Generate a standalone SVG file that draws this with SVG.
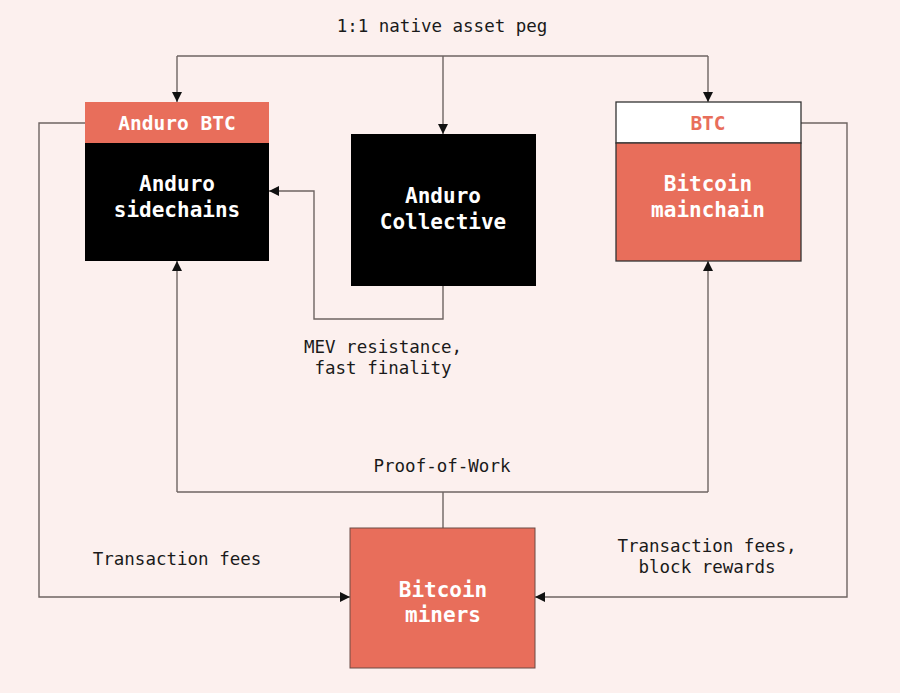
<svg xmlns="http://www.w3.org/2000/svg" width="900" height="693" viewBox="0 0 900 693">
<style>
.bg{fill:#fcf0ee}
.ln{fill:none;stroke:#6e6462;stroke-width:1.4}
.lbl{font-family:"DejaVu Sans Mono","Liberation Mono",monospace;font-size:17.5px;fill:#1a1a1a;text-anchor:middle}
.nt{font-family:"DejaVu Sans Mono","Liberation Mono",monospace;font-size:21px;font-weight:bold;fill:#fff;text-anchor:middle}
.hd{font-family:"DejaVu Sans Mono","Liberation Mono",monospace;font-size:19.5px;font-weight:bold;text-anchor:middle}
.salmon{fill:#e86e5b}
</style>
<defs>
<marker id="ah" viewBox="0 0 10 10" refX="10" refY="5" markerWidth="10" markerHeight="10" markerUnits="userSpaceOnUse" orient="auto">
<path d="M0,0 L10,5 L0,10 Z" fill="#111"/>
</marker>
</defs>
<rect class="bg" x="0" y="0" width="900" height="693"/>

<g id="connectors">
<path class="ln" d="M177,56 H708"/>
<path class="ln" d="M177,56 V102" marker-end="url(#ah)"/>
<path class="ln" d="M443,56 V134" marker-end="url(#ah)"/>
<path class="ln" d="M708,56 V102" marker-end="url(#ah)"/>
<path class="ln" d="M443,286 V319 H314 V191 H269" marker-end="url(#ah)"/>
<path class="ln" d="M443,528 V492"/>
<path class="ln" d="M177,492 H708"/>
<path class="ln" d="M177,492 V261" marker-end="url(#ah)"/>
<path class="ln" d="M708,492 V261" marker-end="url(#ah)"/>
<path class="ln" d="M85,123 H39 V597 H350" marker-end="url(#ah)"/>
<path class="ln" d="M801,123 H847 V597 H535" marker-end="url(#ah)"/>
<text class="lbl" x="442" y="32">1:1 native asset peg</text>
<text class="lbl" x="383" y="353">MEV resistance,</text>
<text class="lbl" x="383" y="374">fast finality</text>
<text class="lbl" x="442" y="472">Proof-of-Work</text>
<text class="lbl" x="177" y="565">Transaction fees</text>
<text class="lbl" x="707" y="552">Transaction fees,</text>
<text class="lbl" x="707" y="573">block rewards</text>
</g>

<g id="anduro-sidechains">
<rect x="85" y="102" width="184" height="159" fill="#000"/>
<rect class="salmon" x="85" y="102" width="184" height="41"/>
<text class="hd" x="177" y="130" fill="#fff">Anduro BTC</text>
<text class="nt" x="177" y="191">Anduro</text>
<text class="nt" x="177" y="217">sidechains</text>
</g>

<g id="anduro-collective">
<rect x="351" y="134" width="185" height="152" fill="#000"/>
<text class="nt" x="443" y="203">Anduro</text>
<text class="nt" x="443" y="229">Collective</text>
</g>

<g id="bitcoin-mainchain">
<rect x="616" y="102" width="185" height="41" fill="#fff" stroke="#333" stroke-width="1.3"/>
<rect class="salmon" x="616" y="143" width="185" height="118" stroke="#333" stroke-width="1.3"/>
<text class="hd" x="708" y="130" fill="#e86e5b">BTC</text>
<text class="nt" x="708" y="191">Bitcoin</text>
<text class="nt" x="708" y="217">mainchain</text>
</g>

<g id="bitcoin-miners">
<rect class="salmon" x="350" y="528" width="185" height="140" stroke="#6b4a44" stroke-width="1"/>
<text class="nt" x="443" y="597">Bitcoin</text>
<text class="nt" x="443" y="622">miners</text>
</g>
</svg>
